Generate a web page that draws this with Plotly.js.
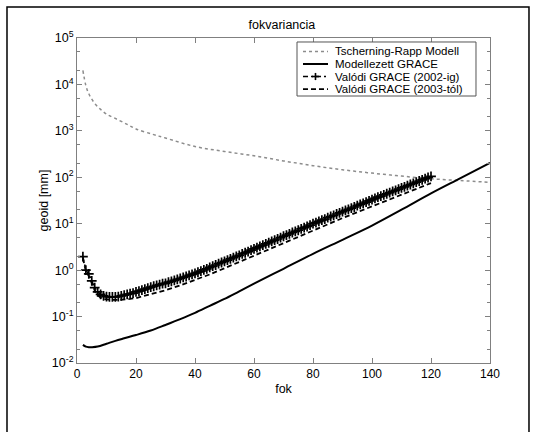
<!DOCTYPE html>
<html>
<head>
<meta charset="utf-8">
<script src="https://cdn.plot.ly/plotly-3.0.1.min.js"></script>
<style>html,body{margin:0;padding:0;background:#fff;}#chart{width:536px;height:432px;}</style>
</head>
<body>
<div id="chart"></div>
<script>
// Tscherning-Rapp Modell
const trDeg = [2, 3, 4, 6, 8, 10, 13, 17, 20, 26, 30, 40, 50, 60, 70, 80, 90, 100, 110, 120, 130, 140];
const trVal = [20000, 9500, 6300, 3900, 2900, 2300, 1850, 1380, 1100, 830, 700, 460, 360, 290, 225, 178, 145, 123, 106, 93, 85, 78];

// Modellezett GRACE
const modDeg = [2, 3, 4, 5, 7, 10, 13, 16, 20, 25, 30, 35, 40, 45, 50, 55, 60, 70, 80, 90, 100, 110, 120, 130, 140];
const modVal = [0.0245, 0.0225, 0.0219, 0.0219, 0.0226, 0.026, 0.030, 0.034, 0.040, 0.050, 0.066, 0.088, 0.12, 0.17, 0.24, 0.35, 0.51, 1.07, 2.24, 4.5, 9.1, 20, 45, 96, 205];

// Valódi GRACE (2002-ig)
const g02Deg = [2,3,4,5,6,7,8,9,10,11,12,13,14,15,16,17,18,19,20,21,22,23,24,25,26,27,28,29,30,31,32,33,34,35,36,37,38,39,40,41,42,43,44,45,46,47,48,49,50,51,52,53,54,55,56,57,58,59,60,61,62,63,64,65,66,67,68,69,70,71,72,73,74,75,76,77,78,79,80,81,82,83,84,85,86,87,88,89,90,91,92,93,94,95,96,97,98,99,100,101,102,103,104,105,106,107,108,109,110,111,112,113,114,115,116,117,118,119,120];
const g02Val = [1.95,1.00,0.83,0.59,0.42,0.34,0.30,0.28,0.27,0.265,0.265,0.266,0.27,0.28,0.29,0.30,0.31,0.32,0.34,0.355,0.37,0.39,0.41,0.43,0.45,0.47,0.49,0.51,0.52,0.55,0.575,0.60,0.63,0.66,0.70,0.73,0.77,0.81,0.85,0.90,0.955,1.01,1.07,1.15,1.22,1.29,1.38,1.46,1.55,1.64,1.74,1.86,1.97,2.09,2.24,2.37,2.51,2.69,2.88,3.05,3.24,3.47,3.67,3.89,4.17,4.42,4.68,5.01,5.37,5.69,6.03,6.46,6.84,7.24,7.76,8.22,8.71,9.33,10.0,10.6,11.2,11.9,12.6,13.5,14.3,15.1,16.2,17.2,18.2,19.3,20.4,21.6,22.9,24.5,26.0,27.5,29.2,30.9,33.1,35.1,37.2,39.4,41.7,44.2,46.8,49.5,52.5,55.6,58.9,62.4,66.1,70.0,74.1,78.5,83.2,88.1,93.3,98.9,105];

// Valódi GRACE (2003-tól)
const g03Deg = [2, 3, 4, 5, 6, 7, 8, 9, 10, 12, 14, 16, 18, 20, 25, 30, 35, 40, 45, 50, 55, 60, 65, 70, 75, 80, 85, 90, 95, 100, 105, 110, 115, 120];
const g03Val = [1.8, 0.95, 0.75, 0.52, 0.37, 0.29, 0.255, 0.24, 0.235, 0.228, 0.228, 0.232, 0.24, 0.25, 0.30, 0.37, 0.47, 0.61, 0.81, 1.1, 1.5, 2.1, 2.8, 3.8, 5.2, 7.3, 9.8, 13.2, 17.7, 23.8, 32, 43, 56, 75];

const seriesNames = ['Tscherning-Rapp Modell', 'Modellezett GRACE', 'Valódi GRACE (2002-ig)', 'Valódi GRACE (2003-tól)'];
const yTickVals = [0.01, 0.1, 1, 10, 100, 1000, 10000, 100000];
const yTickText = ['10<sup>-2</sup>', '10<sup>-1</sup>', '10<sup>0</sup>', '10<sup>1</sup>', '10<sup>2</sup>', '10<sup>3</sup>', '10<sup>4</sup>', '10<sup>5</sup>'];
const xTickVals = [0, 20, 40, 60, 80, 100, 120, 140];

const FONT = 'Liberation Sans, Arial, sans-serif';
const AX = '#808080';
const DASH = '5px,3px';
const DASHDOT = '5px,3px,2px,3px';

const traces = [
  {x: trDeg, y: trVal, type: 'scatter', mode: 'lines', name: seriesNames[0],
   line: {color: '#8c8c8c', width: 1.5, dash: 'dot', shape: 'spline'}},
  {x: modDeg, y: modVal, type: 'scatter', mode: 'lines', name: seriesNames[1],
   line: {color: '#000', width: 2, shape: 'spline'}},
  {x: g03Deg, y: g03Val, type: 'scatter', mode: 'lines', name: seriesNames[3],
   line: {color: '#000', width: 1.8, dash: DASH}},
  {x: g02Deg, y: g02Val, type: 'scatter', mode: 'lines+markers', name: seriesNames[2],
   line: {color: '#000', width: 1.5, dash: DASHDOT},
   marker: {symbol: 'cross-thin', size: 7, color: '#000', line: {color: '#000', width: 1.7}}}
];

// manual legend geometry (paper coords; plot area 77..490 x 38..363 px)
const lgX0 = 0.5327, lgX1 = 0.9661, lgY0 = 0.8215, lgY1 = 0.9877;
const rowY = [0.9585, 0.9200, 0.8815, 0.8430];
const sx0 = 0.5472, sx1 = 0.6077, tx = 0.6199;
const shapes = [
  // outer figure frame
  {type: 'path', xref: 'paper', yref: 'paper',
   path: 'M -0.1695 -0.25 L -0.1695 1.0954 L 1.0944 1.0954 L 1.0944 -0.25',
   line: {color: '#000', width: 1.5}},
  // legend box
  {type: 'rect', xref: 'paper', yref: 'paper', x0: lgX0, x1: lgX1, y0: lgY0, y1: lgY1,
   line: {color: '#555', width: 1}, fillcolor: '#fff', layer: 'above'},
  {type: 'line', xref: 'paper', yref: 'paper', x0: sx0, x1: sx1, y0: rowY[0], y1: rowY[0],
   line: {color: '#8c8c8c', width: 1.5, dash: 'dot'}},
  {type: 'line', xref: 'paper', yref: 'paper', x0: sx0, x1: sx1, y0: rowY[1], y1: rowY[1],
   line: {color: '#000', width: 2}},
  {type: 'line', xref: 'paper', yref: 'paper', x0: sx0, x1: sx1, y0: rowY[2], y1: rowY[2],
   line: {color: '#000', width: 1.5, dash: DASHDOT}},
  {type: 'line', xref: 'paper', yref: 'paper', x0: (sx0 + sx1) / 2 - 0.0085, x1: (sx0 + sx1) / 2 + 0.0085, y0: rowY[2], y1: rowY[2],
   line: {color: '#000', width: 1.6}},
  {type: 'line', xref: 'paper', yref: 'paper', x0: (sx0 + sx1) / 2, x1: (sx0 + sx1) / 2, y0: rowY[2] - 0.011, y1: rowY[2] + 0.011,
   line: {color: '#000', width: 1.6}},
  {type: 'line', xref: 'paper', yref: 'paper', x0: sx0, x1: sx1, y0: rowY[3], y1: rowY[3],
   line: {color: '#000', width: 1.8, dash: DASH}}
];
const legendOrder = [0, 1, 2, 3];
const annotations = legendOrder.map((k, i) => ({
  xref: 'paper', yref: 'paper', x: tx, y: rowY[i], xanchor: 'left', yanchor: 'middle',
  text: seriesNames[k], showarrow: false, font: {family: FONT, size: 11.5, color: '#000'}
}));

const layout = {
  width: 536, height: 432,
  margin: {l: 77, r: 46, t: 38, b: 69, pad: 0},
  paper_bgcolor: '#fff', plot_bgcolor: '#fff',
  showlegend: false,
  font: {family: FONT, size: 12, color: '#000'},
  title: {text: 'fokvariancia', x: 0.526, xanchor: 'center', y: 0.944, yanchor: 'middle',
          font: {family: FONT, size: 12.5, color: '#000'}},
  xaxis: {range: [0, 140], tickvals: xTickVals, ticks: 'inside', ticklen: 5, tickcolor: AX,
          showline: true, linecolor: AX, linewidth: 1, mirror: 'ticks', showgrid: false, zeroline: false,
          tickfont: {family: FONT, size: 12, color: '#000'},
          title: {text: 'fok', standoff: 3, font: {family: FONT, size: 12.5, color: '#000'}}},
  yaxis: {type: 'log', range: [-2, 5], tickvals: yTickVals, ticktext: yTickText,
          ticks: 'inside', ticklen: 5, tickcolor: AX,
          minor: {ticks: 'inside', ticklen: 3, tickcolor: AX, showgrid: false},
          showline: true, linecolor: AX, linewidth: 1, mirror: 'ticks', showgrid: false, zeroline: false,
          tickfont: {family: FONT, size: 12.5, color: '#000'},
          title: {text: 'geoid [mm]', standoff: 0, font: {family: FONT, size: 12.5, color: '#000'}}},
  shapes: shapes,
  annotations: annotations
};

Plotly.newPlot('chart', traces, layout, {staticPlot: true, displayModeBar: false});
</script>
</body>
</html>
